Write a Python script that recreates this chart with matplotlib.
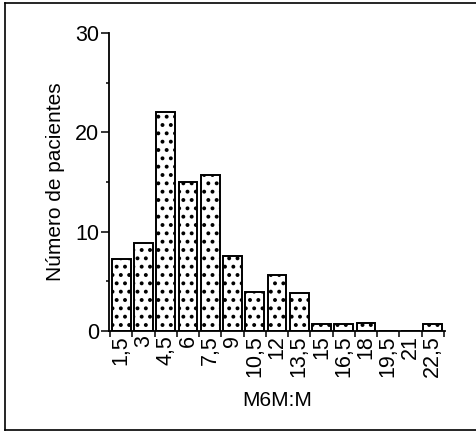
import matplotlib
matplotlib.use('Agg')
import matplotlib.pyplot as plt
from matplotlib.lines import Line2D

RESULT_FILENAME = 'out.png'

labels = ['1,5', '3', '4,5', '6', '7,5', '9', '10,5', '12', '13,5',
          '15', '16,5', '18', '19,5', '21', '22,5']
counts = [7.2, 8.9, 22, 15, 15.7, 7.6, 3.9, 5.6, 3.8,
          0.7, 0.7, 0.8, 0, 0, 0.7]

plt.rcParams['font.family'] = ['Liberation Sans', 'DejaVu Sans']
plt.rcParams['hatch.linewidth'] = 1.6

fig = plt.figure(figsize=(4.76, 4.34), dpi=100)
ax = fig.add_axes([0.229, 0.2373, 0.706, 0.6867])

pos = list(range(len(counts)))
ax.bar(pos, counts, width=0.84, color='white', edgecolor='black',
       linewidth=1.4, hatch='..')

ax.set_xlim(-0.55, 14.55)
ax.set_ylim(0, 30)

ax.spines['top'].set_visible(False)
ax.spines['right'].set_visible(False)
ax.spines['left'].set_linewidth(1.3)
ax.spines['bottom'].set_linewidth(1.3)

ax.set_yticks([0, 10, 20, 30])
ax.set_yticks([5, 15, 25], minor=True)
ax.tick_params(axis='y', which='major', length=6, width=1.1, labelsize=15.5, pad=1)
ax.tick_params(axis='y', which='minor', length=2, width=1.1)

# x ticks sit on the bar boundaries, labels at bar centres
ax.set_xticks([p - 0.5 for p in pos] + [pos[-1] + 0.5])
ax.set_xticklabels([])
ax.set_xticks(pos, minor=True)
ax.set_xticklabels(labels, minor=True, rotation=90, fontsize=15.5)
ax.tick_params(axis='x', which='major', length=4, width=1.1, direction='out')
ax.tick_params(axis='x', which='minor', length=0, pad=3)

ax.set_ylabel('Número de pacientes', fontsize=15, labelpad=7)
ax.set_xlabel('M6M:M', fontsize=15, labelpad=10)

# outer frame of the figure
for xs, ys in [([0.011, 1.0], [0.993, 0.993]),
               ([0.011, 0.011], [0.009, 0.993]),
               ([0.011, 1.0], [0.009, 0.009])]:
    fig.add_artist(Line2D(xs, ys, transform=fig.transFigure, color='black', linewidth=1.2))

plt.savefig(RESULT_FILENAME, dpi=100)
